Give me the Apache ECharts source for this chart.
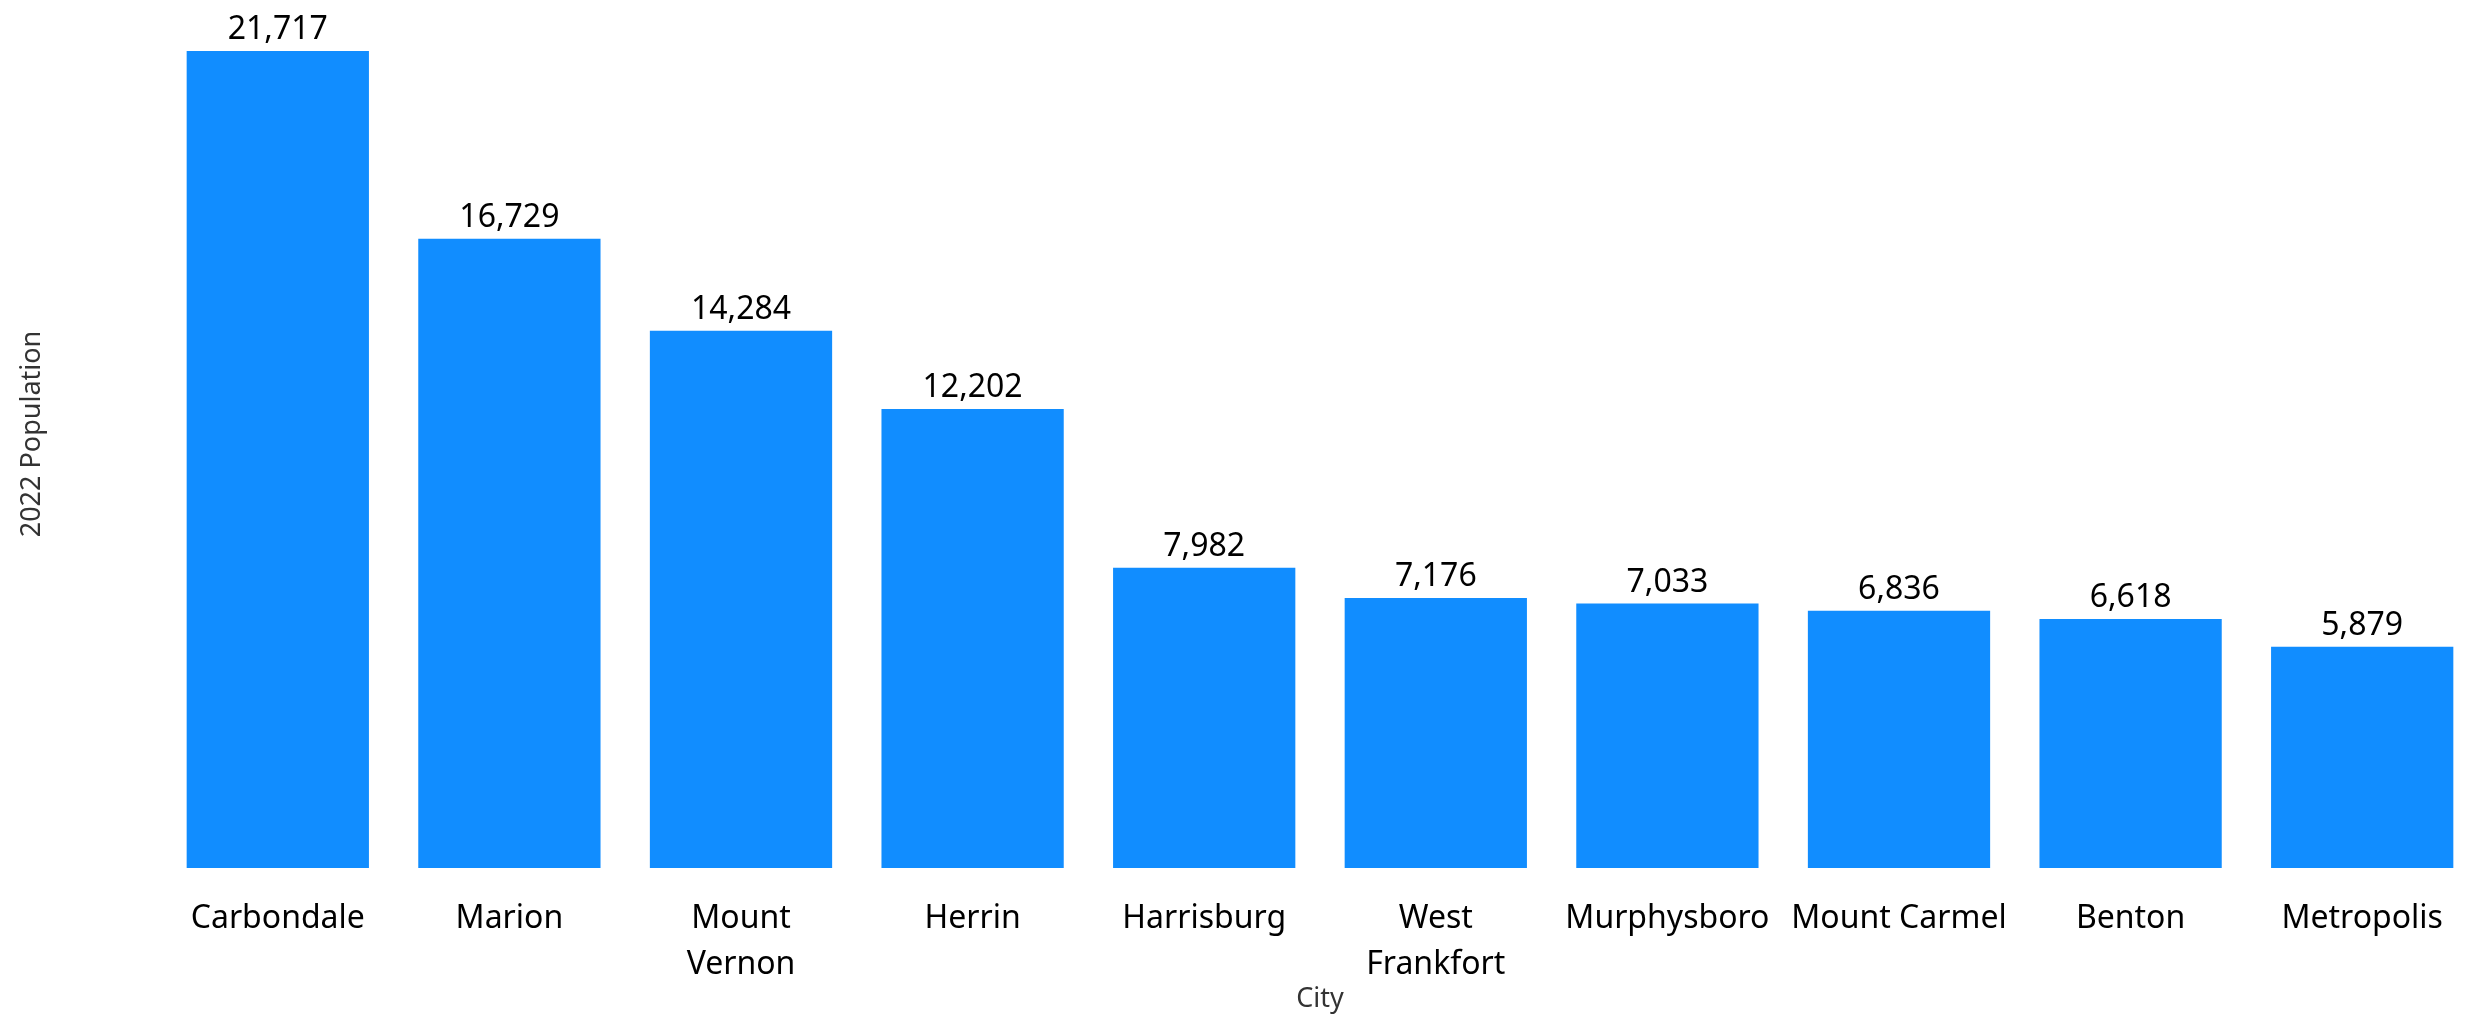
<!DOCTYPE html>
<html>
<head>
<meta charset="utf-8">
<script src="https://cdn.jsdelivr.net/npm/echarts@6/dist/echarts.min.js"></script>
<style>
html,body{margin:0;padding:0;background:#fff;}
#chart{width:2478px;height:1014px;}
</style>
</head>
<body>
<div id="chart"></div>
<script>
const cities = ["Carbondale", "Marion", "Mount Vernon", "Herrin", "Harrisburg", "West Frankfort", "Murphysboro", "Mount Carmel", "Benton", "Metropolis"];
const population2022 = [21717, 16729, 14284, 12202, 7982, 7176, 7033, 6836, 6618, 5879];
const wrappedLabels = {"Mount Vernon": "Mount\nVernon", "West Frankfort": "West\nFrankfort"};

const chart = echarts.init(document.getElementById('chart'));
chart.setOption({
  animation: false,
  grid: { left: 162, right: 0, top: 0, bottom: 146, containLabel: false, outerBoundsMode: 'none' },
  xAxis: {
    type: 'category',
    data: cities,
    name: 'City',
    nameLocation: 'middle',
    nameMoveOverlap: false,
    nameGap: 118,
    nameTextStyle: { fontFamily: 'Noto Sans', fontSize: 27, color: '#333' },
    axisLine: { show: false },
    axisTick: { show: false },
    axisLabel: {
      interval: 0,
      margin: 28,
      fontFamily: 'Noto Sans',
      fontSize: 32,
      lineHeight: 46,
      color: '#000',
      formatter: v => wrappedLabels[v] || v
    }
  },
  yAxis: {
    type: 'value',
    min: 0,
    max: v => v.max * 1.0625,
    name: '2022 Population',
    nameLocation: 'middle',
    nameMoveOverlap: false,
    nameGap: 116,
    nameTextStyle: { fontFamily: 'Noto Sans', fontSize: 27, color: '#333' },
    axisLine: { show: false },
    axisTick: { show: false },
    axisLabel: { show: false },
    splitLine: { show: false }
  },
  series: [{
    type: 'bar',
    data: population2022,
    barCategoryGap: '21.3%',
    itemStyle: { color: '#118DFF' },
    label: {
      show: true,
      position: 'top',
      distance: 5,
      fontFamily: 'Noto Sans',
      fontSize: 32,
      color: '#000',
      formatter: p => p.value.toLocaleString('en-US')
    }
  }]
});
</script>
</body>
</html>
